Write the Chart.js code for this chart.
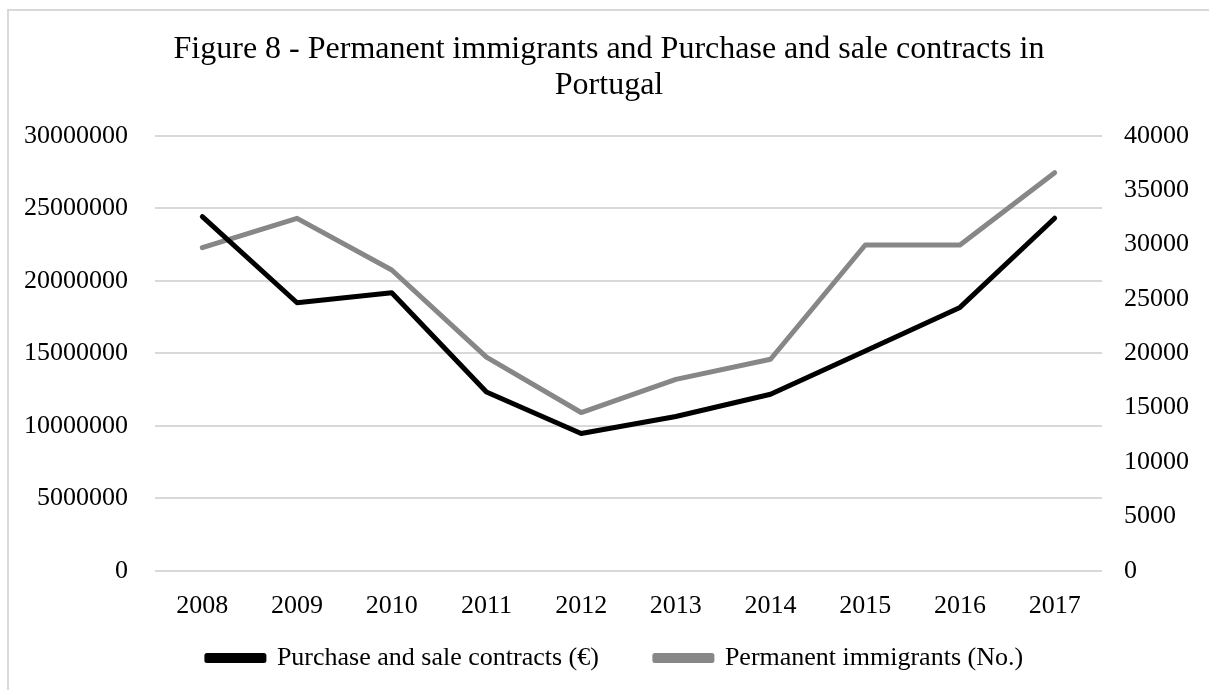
<!DOCTYPE html>
<html>
<head>
<meta charset="utf-8">
<script src="https://cdn.jsdelivr.net/npm/chart.js@4.4.1/dist/chart.umd.min.js"></script>
<style>
  html, body { margin: 0; padding: 0; background: #fff; overflow: hidden; }
  canvas { display: block; }
</style>
</head>
<body>
<canvas id="c" width="1209" height="690"></canvas>
<script>
const years = ['2008','2009','2010','2011','2012','2013','2014','2015','2016','2017'];
const contracts = [24420000, 18480000, 19170000, 12330000, 9470000, 10640000, 12170000, 15150000, 18160000, 24310000];
const immigrants = [29700, 32400, 27650, 19650, 14550, 17600, 19450, 29950, 29950, 36600];
const titleLines = ['Figure 8 - Permanent immigrants and Purchase and sale contracts in', 'Portugal'];

const serif = "'Liberation Serif', 'Times New Roman', serif";

const framePlugin = {
  id: 'frame',
  beforeDraw(chart) {
    const ctx = chart.ctx;
    ctx.save();
    ctx.strokeStyle = '#d9d9d9';
    ctx.lineWidth = 2;
    ctx.beginPath();
    ctx.moveTo(8, chart.height + 5);
    ctx.lineTo(8, 10);
    ctx.lineTo(chart.width + 5, 10);
    ctx.stroke();
    ctx.restore();
  },
  afterLayout(chart) {
    const lg = chart.legend;
    if (lg) {
      lg.top = 589;
      lg.bottom = chart.height;
      lg.height = lg.bottom - lg.top;
      lg.left += 11;
      lg.right += 11;
    }
    const tb = chart.titleBlock;
    if (tb) {
      tb.left += 5;
      tb.right += 5;
    }
  }
};

new Chart(document.getElementById('c'), {
  type: 'line',
  data: {
    labels: years,
    datasets: [
      {
        label: 'Purchase and sale contracts (€)',
        data: contracts,
        borderColor: '#000000',
        backgroundColor: '#000000',
        borderWidth: 5,
        pointRadius: 0,
        tension: 0,
        borderCapStyle: 'round',
        borderJoinStyle: 'round',
        yAxisID: 'y'
      },
      {
        label: 'Permanent immigrants (No.)',
        data: immigrants,
        borderColor: '#878787',
        backgroundColor: '#878787',
        borderWidth: 5,
        pointRadius: 0,
        tension: 0,
        borderCapStyle: 'round',
        borderJoinStyle: 'round',
        yAxisID: 'y1'
      }
    ]
  },
  plugins: [framePlugin],
  options: {
    responsive: false,
    animation: false,
    layout: { padding: { left: -3, right: -2, top: 0, bottom: 0 } },
    plugins: {
      tooltip: { enabled: false },
      title: {
        display: true,
        text: titleLines,
        color: '#000',
        font: { family: serif, size: 32, weight: 'normal', lineHeight: 1.12 },
        padding: { top: 32, bottom: 32 }
      },
      legend: {
        position: 'bottom',
        maxHeight: 48,
        labels: {
          color: '#000',
          font: { family: serif, size: 26 },
          boxWidth: 57,
          boxHeight: 5,
          padding: 56
        }
      }
    },
    scales: {
      x: {
        offset: true,
        grid: { display: false, drawTicks: false },
        border: { display: false },
        ticks: { color: '#000', font: { family: serif, size: 26 }, padding: 20, maxRotation: 0 }
      },
      y: {
        position: 'left',
        min: 0, max: 30000000,
        grid: { color: '#d9d9d9', lineWidth: 2, drawTicks: false },
        border: { display: false },
        ticks: { stepSize: 5000000, color: '#000', font: { family: serif, size: 26 }, padding: 27,
                 callback: (v) => String(v) }
      },
      y1: {
        position: 'right',
        min: 0, max: 40000,
        grid: { display: false, drawTicks: false },
        border: { display: false },
        ticks: { stepSize: 5000, color: '#000', font: { family: serif, size: 26 }, padding: 22,
                 callback: (v) => String(v) }
      }
    }
  }
});
</script>
</body>
</html>
